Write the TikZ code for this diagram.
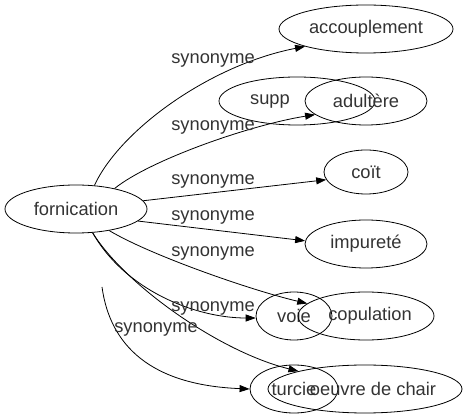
\documentclass[tikz,border=0pt]{standalone}
\usepackage{fontspec}
\setmainfont{Liberation Sans}
\usetikzlibrary{shapes.geometric,arrows.meta}
\newcommand{\wordfont}{\fontsize{18.3}{20}\selectfont}
\begin{document}
\begin{tikzpicture}[
    x=1pt, y=-1pt,
    word/.style={draw, ellipse, line width=0.8pt, inner sep=0pt, minimum height=48pt, text=black!80, font=\wordfont},
    txt/.style={inner sep=0pt, text=black!80, font=\wordfont},
    rel/.style={inner sep=0pt, anchor=base, text=black!80, font=\wordfont},
    arrow/.style={-{Triangle[length=10pt, width=7pt]}, line width=0.8pt}
  ]
  \useasboundingbox (0,0) rectangle (466,419);

  % words
  \node[word, minimum width=142pt] (forn) at (76,209) {fornication};
  \node[word, minimum width=174pt] (acc) at (366,29) {accouplement};
  \node[word, minimum width=156pt] (supp) at (297,101) {};
  \node[txt] (supp_txt) at (270,101) {supp};
  \node[word, minimum width=122pt] (adu) at (366,101) {adultère};
  \node[word, minimum width=84pt, minimum height=44pt] (coit) at (366,172) {coït};
  \node[word, minimum width=122pt] (imp) at (366,244) {impureté};
  \node[word, minimum width=76pt] (voie) at (294,316) {voie};
  \node[word, minimum width=136pt] (cop) at (366,316) {};
  \node[txt] (cop_txt) at (370,316) {copulation};
  \node[word, minimum width=88pt] (turc) at (294,389) {turcie};
  \node[word, minimum width=194pt] (oeu) at (365,389) {};
  \node[txt] (oeu_txt) at (373,389) {oeuvre de chair};

  % synonyme edges
  \draw[arrow] (forn.52) .. controls (120,130) and (210,65) .. (acc.196);
  \node[rel] (r_acc) at (213,64) {synonyme};
  \draw[arrow] (forn.28) .. controls (150,160) and (250,125) .. (adu.195);
  \node[rel] (r_adu) at (213,131) {synonyme};
  \draw[arrow] (forn.7) -- (coit.191);
  \node[rel] (r_coit) at (213,185) {synonyme};
  \draw[arrow] (forn.349) -- (imp.177);
  \node[rel] (r_imp) at (213,221) {synonyme};
  \draw[arrow] (forn.327) .. controls (150,255) and (250,290) .. (cop.168);
  \node[rel] (r_cop) at (213,257) {synonyme};
  \draw[arrow] (forn.305) .. controls (125,290) and (195,318) .. (voie.183);
  \node[rel] (r_voie) at (213,312) {synonyme};
  \draw[arrow] (forn.305) .. controls (125,285) and (220,352) .. (oeu.165);

  \coordinate (free) at (102,287);
  \draw[arrow] (free) .. controls (110,345) and (150,385) .. (turc.180);
  \node[rel] (r_turc) at (156,333) {synonyme};

\end{tikzpicture}
\end{document}
